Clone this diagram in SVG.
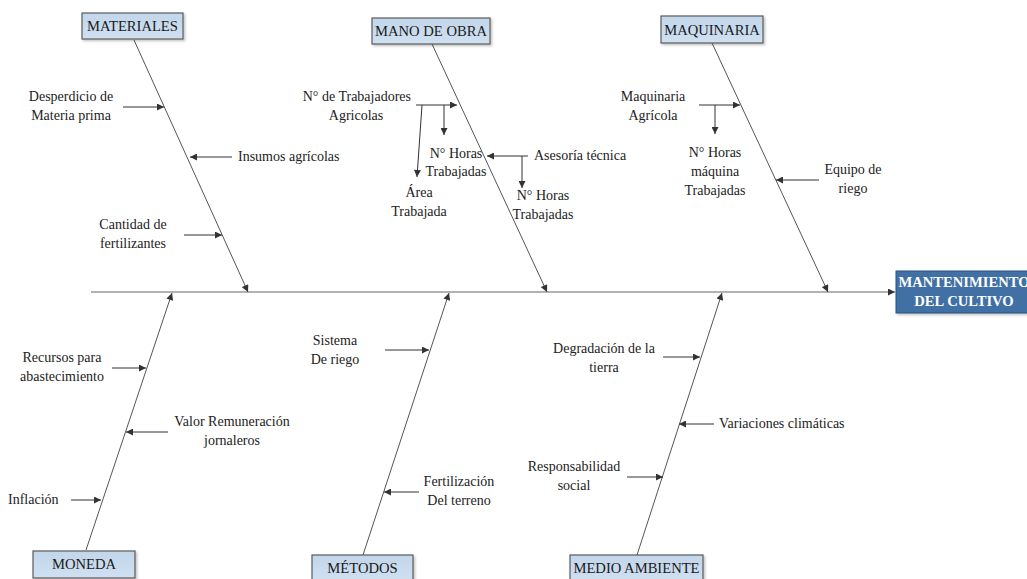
<svg xmlns="http://www.w3.org/2000/svg" width="1027" height="579" viewBox="0 0 1027 579">
  <style>
    .lbl { font-family: "Liberation Serif", "Times New Roman", serif; font-size: 14px; fill: #222; }
    .mid { text-anchor: middle; }
    .end { text-anchor: end; }
    .cat { font-family: "Liberation Serif", "Times New Roman", serif; font-size: 14.6px; fill: #1a1a1a; text-anchor: middle; }
    .box { fill: url(#boxFill); stroke: #5a5a5a; stroke-width: 1.2; filter: url(#shadow); }
    .spine { stroke: #666; stroke-width: 1.2; fill: none; }
    .bone { stroke: #555; stroke-width: 1; fill: none; marker-end: url(#arrow); }
    .sub { stroke: #333; stroke-width: 1; fill: none; marker-end: url(#arrow); }
    .head { fill: #3f6fa4; stroke: #2e557f; stroke-width: 1; filter: url(#shadow); }
    .headtxt { font-family: "Liberation Serif", "Times New Roman", serif; font-size: 14.6px; font-weight: bold; fill: #ffffff; text-anchor: middle; }
  </style>
  <defs>
    <linearGradient id="boxFill" x1="0" y1="0" x2="0" y2="1">
      <stop offset="0" stop-color="#c2d6ea"/>
      <stop offset="1" stop-color="#cfe0f1"/>
    </linearGradient>
    <filter id="shadow" x="-10%" y="-20%" width="130%" height="160%">
      <feDropShadow dx="1.5" dy="1.5" stdDeviation="1" flood-color="#000" flood-opacity="0.25"/>
    </filter>
    <marker id="arrow" viewBox="0 0 10 10" refX="10" refY="5" markerWidth="9" markerHeight="7" markerUnits="userSpaceOnUse" orient="auto">
      <path d="M0,0 L10,5 L0,10 z" fill="#333"/>
    </marker>
  </defs>

  <rect width="1027" height="579" fill="#ffffff"/>

  <!-- connectors: spine, category bones and cause arrows -->
  <g id="connectors">
    <line class="spine" x1="91" y1="292" x2="895" y2="292" marker-end="url(#arrow)"/>

    <!-- top bones -->
    <line class="bone" x1="134" y1="40" x2="248" y2="292"/>
    <line class="bone" x1="432" y1="44" x2="547" y2="292"/>
    <line class="bone" x1="712" y1="43" x2="828" y2="292"/>

    <!-- bottom bones -->
    <line class="bone" x1="86" y1="550" x2="172" y2="293"/>
    <line class="bone" x1="363" y1="555" x2="449" y2="293"/>
    <line class="bone" x1="637" y1="555" x2="722" y2="293"/>

    <!-- MATERIALES causes -->
    <line class="sub" x1="123" y1="107" x2="164" y2="107"/>
    <line class="sub" x1="232" y1="157" x2="190" y2="157"/>
    <line class="sub" x1="184" y1="235" x2="222" y2="235"/>

    <!-- MANO DE OBRA causes -->
    <line class="sub" x1="416" y1="105" x2="457" y2="105"/>
    <line class="sub" x1="444" y1="105" x2="444" y2="135"/>
    <line class="sub" x1="422" y1="105" x2="417" y2="177"/>
    <line class="sub" x1="528" y1="156" x2="487" y2="156"/>
    <line class="sub" x1="522" y1="156" x2="522" y2="188"/>

    <!-- MAQUINARIA causes -->
    <line class="sub" x1="699" y1="105" x2="740" y2="105"/>
    <line class="sub" x1="715" y1="105" x2="715" y2="134"/>
    <line class="sub" x1="819" y1="180" x2="776" y2="180"/>

    <!-- MONEDA causes -->
    <line class="sub" x1="112" y1="368" x2="146" y2="368"/>
    <line class="sub" x1="168" y1="432" x2="126" y2="432"/>
    <line class="sub" x1="71" y1="500" x2="101" y2="500"/>

    <!-- MÉTODOS causes -->
    <line class="sub" x1="385" y1="350" x2="429" y2="350"/>
    <line class="sub" x1="419" y1="492" x2="384" y2="492"/>

    <!-- MEDIO AMBIENTE causes -->
    <line class="sub" x1="663" y1="357" x2="700" y2="357"/>
    <line class="sub" x1="714" y1="424" x2="679" y2="424"/>
    <line class="sub" x1="627" y1="477" x2="663" y2="477"/>
  </g>

  <!-- effect -->
  <g id="mantenimiento">
    <rect class="head" x="896" y="271" width="140" height="42"/>
    <text class="headtxt" x="964" y="287">MANTENIMIENTO</text>
    <text class="headtxt" x="964" y="306">DEL CULTIVO</text>
  </g>

  <!-- categories -->
  <g id="materiales">
    <rect class="box" x="82" y="13" width="101" height="26"/>
    <text class="cat" x="132.5" y="31">MATERIALES</text>
  </g>
  <g id="mano-de-obra">
    <rect class="box" x="372" y="18" width="118" height="26"/>
    <text class="cat" x="431" y="36">MANO DE OBRA</text>
  </g>
  <g id="maquinaria">
    <rect class="box" x="661" y="16" width="102" height="27"/>
    <text class="cat" x="712" y="35">MAQUINARIA</text>
  </g>
  <g id="moneda">
    <rect class="box" x="33" y="551" width="102" height="27"/>
    <text class="cat" x="84" y="569">MONEDA</text>
  </g>
  <g id="metodos">
    <rect class="box" x="312" y="555" width="101" height="26"/>
    <text class="cat" x="362.5" y="573">MÉTODOS</text>
  </g>
  <g id="medio-ambiente">
    <rect class="box" x="570" y="555" width="133" height="26"/>
    <text class="cat" x="636.5" y="573">MEDIO AMBIENTE</text>
  </g>

  <!-- cause labels -->
  <g id="causas-materiales">
    <text class="lbl mid" x="71" y="101">Desperdicio de</text>
    <text class="lbl mid" x="71" y="120">Materia prima</text>
    <text class="lbl" x="238" y="161">Insumos agrícolas</text>
    <text class="lbl mid" x="133" y="229">Cantidad de</text>
    <text class="lbl mid" x="133" y="248">fertilizantes</text>
  </g>
  <g id="causas-mano-de-obra">
    <text class="lbl end" x="411" y="101">N° de Trabajadores</text>
    <text class="lbl mid" x="356" y="120">Agricolas</text>
    <text class="lbl mid" x="456" y="158">N° Horas</text>
    <text class="lbl mid" x="456" y="176">Trabajadas</text>
    <text class="lbl mid" x="419" y="197">Área</text>
    <text class="lbl mid" x="419" y="216">Trabajada</text>
    <text class="lbl" x="534" y="160">Asesoría técnica</text>
    <text class="lbl mid" x="543" y="200">N° Horas</text>
    <text class="lbl mid" x="543" y="219">Trabajadas</text>
  </g>
  <g id="causas-maquinaria">
    <text class="lbl mid" x="653" y="101">Maquinaria</text>
    <text class="lbl mid" x="653" y="120">Agrícola</text>
    <text class="lbl mid" x="715" y="157">N° Horas</text>
    <text class="lbl mid" x="715" y="176">máquina</text>
    <text class="lbl mid" x="715" y="195">Trabajadas</text>
    <text class="lbl mid" x="853" y="174">Equipo de</text>
    <text class="lbl mid" x="853" y="193">riego</text>
  </g>
  <g id="causas-moneda">
    <text class="lbl mid" x="62" y="362">Recursos para</text>
    <text class="lbl mid" x="62" y="381">abastecimiento</text>
    <text class="lbl mid" x="232" y="426">Valor Remuneración</text>
    <text class="lbl mid" x="232" y="445">jornaleros</text>
    <text class="lbl" x="8" y="504">Inflación</text>
  </g>
  <g id="causas-metodos">
    <text class="lbl mid" x="335" y="345">Sistema</text>
    <text class="lbl mid" x="335" y="364">De riego</text>
    <text class="lbl mid" x="459" y="486">Fertilización</text>
    <text class="lbl mid" x="459" y="505">Del terreno</text>
  </g>
  <g id="causas-medio-ambiente">
    <text class="lbl mid" x="604" y="353">Degradación de la</text>
    <text class="lbl mid" x="604" y="372">tierra</text>
    <text class="lbl" x="719" y="428">Variaciones climáticas</text>
    <text class="lbl mid" x="574" y="471">Responsabilidad</text>
    <text class="lbl mid" x="574" y="490">social</text>
  </g>
</svg>
